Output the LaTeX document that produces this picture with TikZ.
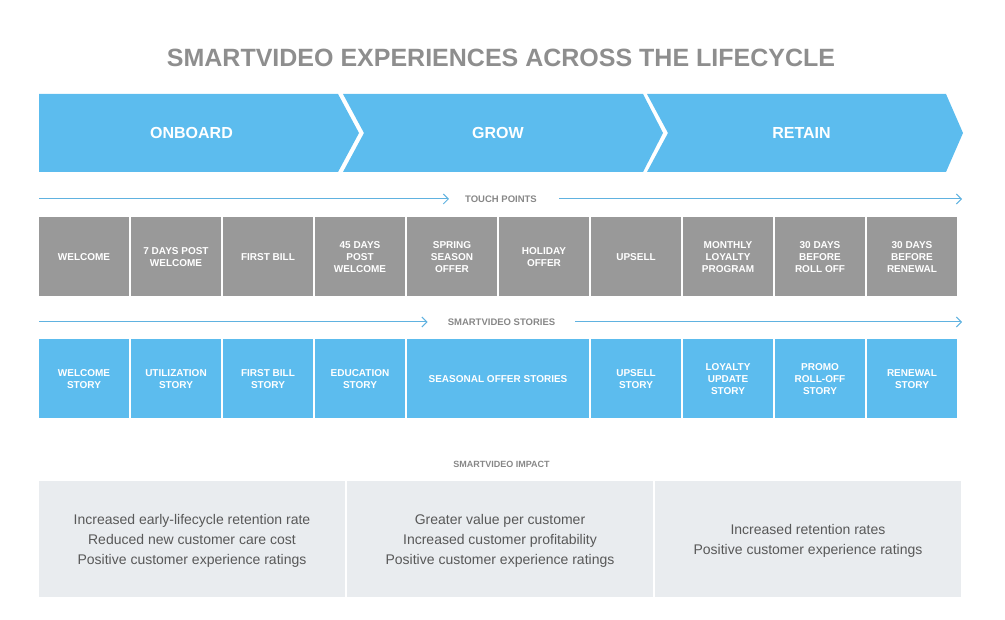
\documentclass[tikz,border=0pt]{standalone}
\usepackage{fontspec}
\setmainfont{Liberation Sans}
\usepackage{xcolor}
\usepackage{tikz}
\usetikzlibrary{arrows.meta}
\definecolor{stageblue}{RGB}{92,188,238}
\definecolor{touchgray}{RGB}{153,153,153}
\definecolor{titlegray}{RGB}{142,142,142}
\definecolor{lanegray}{RGB}{135,135,135}
\definecolor{flowblue}{RGB}{96,178,224}
\definecolor{impactfill}{RGB}{233,236,239}
\definecolor{impacttext}{RGB}{88,88,88}
\tikzset{
title/.style = { text = titlegray, inner sep = 0pt, font = \bfseries\fontsize{25}{30}\selectfont },
stage label/.style = { text = white, inner sep = 0pt, font = \bfseries\fontsize{16}{19}\selectfont },
lane label/.style = { text = lanegray, inner ysep = 0pt, font = \bfseries\fontsize{9.5}{11}\selectfont },
impact label/.style = { text = lanegray, inner sep = 0pt, font = \bfseries\fontsize{9}{11}\selectfont },
touch point/.style = { rectangle, draw = none, fill = touchgray, text = white, minimum width = 90pt, minimum height = 79pt, inner sep = 0pt, align = center, font = \bfseries\fontsize{10}{12}\selectfont },
story/.style = { rectangle, draw = none, fill = stageblue, text = white, minimum width = 90pt, minimum height = 79pt, inner sep = 0pt, align = center, font = \bfseries\fontsize{10}{12}\selectfont },
impact/.style = { rectangle, draw = none, fill = impactfill, text = impacttext, minimum width = 306pt, minimum height = 116pt, inner sep = 0pt, text depth = 0pt, align = center, font = \fontsize{14}{20}\selectfont },
flow/.style = { draw = flowblue, line width = 1pt, -{Straight Barb[length = 5pt, width = 10pt]} },
}
\tikzset{
pics/first stage/.style args={#1, #2, #3}{
        code = {
        \path[fill = stageblue] (0, 0) -- (#2, 0) -- ++(#3, 39) -- ++(-#3, 39) -- (0, 78) -- cycle;
        \node[stage label] (-label) at ({#2/2 + 3}, 39) {#1};
        }
    },
pics/stage/.style args={#1, #2, #3}{
        code = {
        \path[fill = stageblue] (0, 0) -- (#2, 0) -- ++(#3, 39) -- ++(-#3, 39) -- (0, 78) -- (21, 39) -- cycle;
        \node[stage label] (-label) at ({#2/2 + 5}, 39) {#1};
        }
    }
}
\begin{document}
\begin{tikzpicture}[x = 1pt, y = -1pt]
    \useasboundingbox (0, 0) rectangle (1005, 620);
    \node[title] (title) at (501, 58) {SMARTVIDEO EXPERIENCES ACROSS THE LIFECYCLE};
    \draw (39, 94) pic (onboard) {first stage = {ONBOARD, 299, 21}};
    \draw (343, 94) pic (grow) {stage = {GROW, 300, 20}};
    \draw (647, 94) pic (retain) {stage = {RETAIN, 299, 17}};
    \coordinate (touch start) at (39, 199);
    \coordinate (touch end) at (962, 199);
    \node[lane label, inner xsep = 16pt] (touch label) at (501, 199) {TOUCH POINTS};
    \draw[flow] (touch start) -- (touch label);
    \draw[flow, shorten <= 6pt] (touch label) -- (touch end);
    \node[touch point] (touch1) at (84, 257) {WELCOME};
    \node[touch point] (touch2) at (176, 257) {7 DAYS POST\\WELCOME};
    \node[touch point] (touch3) at (268, 257) {FIRST BILL};
    \node[touch point] (touch4) at (360, 257) {45 DAYS\\POST\\WELCOME};
    \node[touch point] (touch5) at (452, 257) {SPRING\\SEASON\\OFFER};
    \node[touch point] (touch6) at (544, 257) {HOLIDAY\\OFFER};
    \node[touch point] (touch7) at (636, 257) {UPSELL};
    \node[touch point] (touch8) at (728, 257) {MONTHLY\\LOYALTY\\PROGRAM};
    \node[touch point] (touch9) at (820, 257) {30 DAYS\\BEFORE\\ROLL OFF};
    \node[touch point] (touch10) at (912, 257) {30 DAYS\\BEFORE\\RENEWAL};
    \coordinate (story start) at (39, 322);
    \coordinate (story end) at (962, 322);
    \node[lane label, inner xsep = 20pt] (story label) at (501.5, 322) {SMARTVIDEO STORIES};
    \draw[flow] (story start) -- (story label);
    \draw[flow] (story label) -- (story end);
    \node[story] (story1) at (84, 379) {WELCOME\\STORY};
    \node[story] (story2) at (176, 379) {UTILIZATION\\STORY};
    \node[story] (story3) at (268, 379) {FIRST BILL\\STORY};
    \node[story] (story4) at (360, 379) {EDUCATION\\STORY};
    \node[story, minimum width = 182pt] (story5) at (498, 379) {SEASONAL OFFER STORIES};
    \node[story] (story6) at (636, 379) {UPSELL\\STORY};
    \node[story] (story7) at (728, 379) {LOYALTY\\UPDATE\\STORY};
    \node[story] (story8) at (820, 379) {PROMO\\ROLL-OFF\\STORY};
    \node[story] (story9) at (912, 379) {RENEWAL\\STORY};
    \node[impact label] (impact label) at (501.5, 464) {SMARTVIDEO IMPACT};
    \node[impact] (impact1) at (192, 539) {Increased early-lifecycle retention rate\\Reduced new customer care cost\\Positive customer experience ratings};
    \node[impact] (impact2) at (500, 539) {Greater value per customer\\Increased customer profitability\\Positive customer experience ratings};
    \node[impact] (impact3) at (808, 539) {Increased retention rates\\Positive customer experience ratings};
  \end{tikzpicture}
\end{document}
